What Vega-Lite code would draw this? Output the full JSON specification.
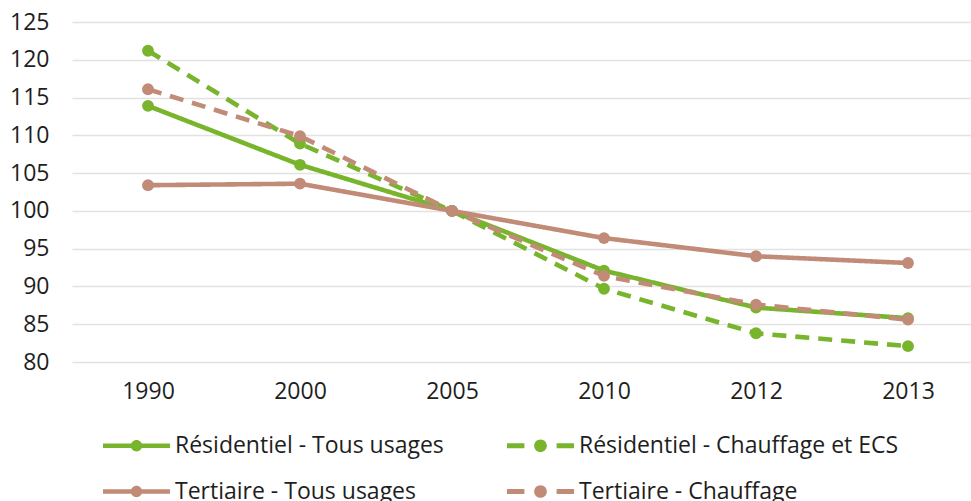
{
  "$schema": "https://vega.github.io/schema/vega-lite/v6.json",
  "width": 912,
  "height": 340,
  "autosize": {"type": "none"},
  "padding": {"left": 72, "top": 22, "right": 0, "bottom": 139},
  "background": "white",
  "config": {
    "view": {"stroke": null},
    "font": "Open Sans",
    "axis": {"labelFont": "Open Sans", "labelFontSize": 23, "labelColor": "#1e1e1e", "title": null},
    "legend": {"labelFont": "Open Sans", "labelFontSize": 23, "labelColor": "#1e1e1e"}
  },
  "data": {
    "values": [
      {"annee": "1990", "serie": "Résidentiel - Tous usages", "valeur": 113.9},
      {"annee": "2000", "serie": "Résidentiel - Tous usages", "valeur": 106.1},
      {"annee": "2005", "serie": "Résidentiel - Tous usages", "valeur": 100},
      {"annee": "2010", "serie": "Résidentiel - Tous usages", "valeur": 92.1},
      {"annee": "2012", "serie": "Résidentiel - Tous usages", "valeur": 87.2},
      {"annee": "2013", "serie": "Résidentiel - Tous usages", "valeur": 85.8},
      {"annee": "1990", "serie": "Résidentiel - Chauffage et ECS", "valeur": 121.2},
      {"annee": "2000", "serie": "Résidentiel - Chauffage et ECS", "valeur": 108.9},
      {"annee": "2005", "serie": "Résidentiel - Chauffage et ECS", "valeur": 100},
      {"annee": "2010", "serie": "Résidentiel - Chauffage et ECS", "valeur": 89.7},
      {"annee": "2012", "serie": "Résidentiel - Chauffage et ECS", "valeur": 83.8},
      {"annee": "2013", "serie": "Résidentiel - Chauffage et ECS", "valeur": 82.1},
      {"annee": "1990", "serie": "Tertiaire - Tous usages", "valeur": 103.4},
      {"annee": "2000", "serie": "Tertiaire - Tous usages", "valeur": 103.6},
      {"annee": "2005", "serie": "Tertiaire - Tous usages", "valeur": 100},
      {"annee": "2010", "serie": "Tertiaire - Tous usages", "valeur": 96.4},
      {"annee": "2012", "serie": "Tertiaire - Tous usages", "valeur": 94.0},
      {"annee": "2013", "serie": "Tertiaire - Tous usages", "valeur": 93.1},
      {"annee": "1990", "serie": "Tertiaire - Chauffage", "valeur": 116.1},
      {"annee": "2000", "serie": "Tertiaire - Chauffage", "valeur": 109.9},
      {"annee": "2005", "serie": "Tertiaire - Chauffage", "valeur": 100},
      {"annee": "2010", "serie": "Tertiaire - Chauffage", "valeur": 91.4},
      {"annee": "2012", "serie": "Tertiaire - Chauffage", "valeur": 87.6},
      {"annee": "2013", "serie": "Tertiaire - Chauffage", "valeur": 85.6}
    ]
  },
  "encoding": {
    "x": {
      "field": "annee", "type": "ordinal",
      "scale": {"type": "point", "padding": 0.5},
      "axis": {"labelAngle": 0, "ticks": false, "domain": false, "grid": false, "labelPadding": 18}
    },
    "y": {
      "field": "valeur", "type": "quantitative",
      "scale": {"domain": [80, 125], "nice": false, "zero": false},
      "axis": {"values": [80, 85, 90, 95, 100, 105, 110, 115, 120, 125], "ticks": false, "domain": false, "labelPadding": 23, "gridColor": "#e2e2e2", "gridWidth": 1.5}
    },
    "color": {
      "field": "serie", "type": "nominal",
      "scale": {
        "domain": ["Résidentiel - Tous usages", "Résidentiel - Chauffage et ECS", "Tertiaire - Tous usages", "Tertiaire - Chauffage"],
        "range": ["#78b52c", "#78b52c", "#c18b77", "#c18b77"]
      },
      "legend": {
        "title": null,
        "orient": "none",
        "legendX": 31,
        "legendY": 390,
        "columns": 2,
        "direction": "horizontal",
        "columnPadding": 63,
        "rowPadding": -25,
        "symbolSize": 4489,
        "symbolStrokeWidth": 0,
        "labelOffset": 5,
        "labelLimit": 600,
        "encode": {
          "symbols": {
            "update": {
              "shape": {"signal": "indexof(datum.value, 'Chauffage') >= 0 ? 'M-1,-0.075H-0.48V0.075H-1Z M0.48,-0.075H1V0.075H0.48Z M0.19,0A0.19,0.19 0 1,1 -0.19,0A0.19,0.19 0 1,1 0.19,0Z' : 'M-1,-0.07H1V0.07H-1Z M0.17,0A0.17,0.17 0 1,1 -0.17,0A0.17,0.17 0 1,1 0.17,0Z'"},
              "fill": {"scale": "color", "field": "value"},
              "stroke": {"value": "transparent"},
              "strokeWidth": {"value": 0},
              "strokeDash": {"value": [1, 0]},
              "opacity": {"value": 1}
            }
          }
        }
      }
    },
    "strokeDash": {
      "field": "serie", "type": "nominal",
      "scale": {
        "domain": ["Résidentiel - Tous usages", "Résidentiel - Chauffage et ECS", "Tertiaire - Tous usages", "Tertiaire - Chauffage"],
        "range": [[1, 0], [14, 9], [1, 0], [14, 9]]
      },
      "legend": null
    },
    "order": {"field": "annee"}
  },
  "layer": [
    {"mark": {"type": "line", "strokeWidth": 4.6}},
    {"mark": {"type": "circle", "size": 140, "opacity": 1}, "encoding": {"strokeDash": null}}
  ]
}
